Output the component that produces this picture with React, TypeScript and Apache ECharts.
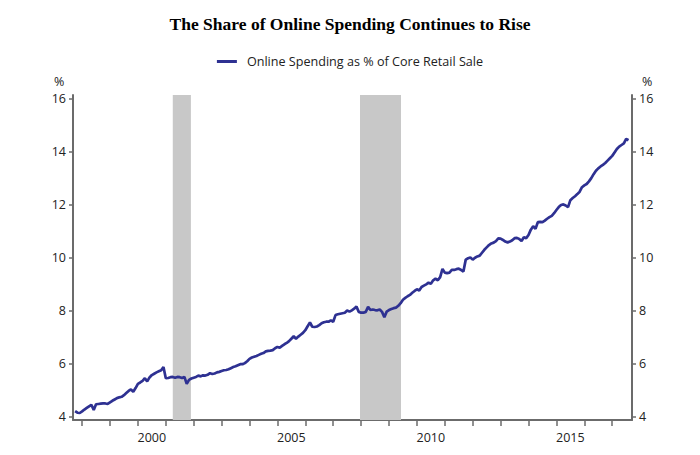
import React, { useEffect, useRef } from "react";
import * as echarts from "echarts";

const TITLE = "The Share of Online Spending Continues to Rise";
const SERIES_NAME = "Online Spending as % of Core Retail Sale";

// Monthly data, first value = October 1997
const START_YEAR = 1997;
const START_MONTH = 10;
const share1997 = [4.21, 4.15, 4.14];
const share1998 = [4.2, 4.27, 4.33, 4.39, 4.45, 4.25, 4.47, 4.48, 4.49, 4.5, 4.5, 4.48];
const share1999 = [4.54, 4.6, 4.65, 4.7, 4.73, 4.75, 4.81, 4.89, 4.97, 5.03, 4.94, 5.08];
const share2000 = [5.24, 5.29, 5.35, 5.45, 5.33, 5.48, 5.57, 5.62, 5.67, 5.71, 5.75, 5.87];
const share2001 = [5.45, 5.46, 5.49, 5.5, 5.47, 5.5, 5.49, 5.46, 5.5, 5.24, 5.39, 5.44];
const share2002 = [5.47, 5.5, 5.55, 5.52, 5.56, 5.55, 5.58, 5.64, 5.61, 5.63, 5.67, 5.69];
const share2003 = [5.72, 5.75, 5.76, 5.79, 5.83, 5.87, 5.9, 5.94, 5.98, 5.98, 6.02, 6.09];
const share2004 = [6.18, 6.23, 6.26, 6.29, 6.33, 6.37, 6.4, 6.46, 6.48, 6.49, 6.51, 6.58];
const share2005 = [6.63, 6.6, 6.67, 6.73, 6.78, 6.85, 6.94, 7.03, 6.94, 7.02, 7.09, 7.16];
const share2006 = [7.26, 7.41, 7.55, 7.39, 7.38, 7.4, 7.45, 7.52, 7.56, 7.58, 7.58, 7.63];
const share2007 = [7.58, 7.83, 7.86, 7.88, 7.9, 7.92, 8.0, 7.96, 8.01, 8.07, 8.15, 7.95];
const share2008 = [7.92, 7.92, 7.95, 8.14, 8.02, 8.04, 8.02, 8.01, 8.04, 7.95, 7.75, 7.96];
const share2009 = [8.02, 8.06, 8.09, 8.11, 8.18, 8.28, 8.41, 8.48, 8.54, 8.59, 8.67, 8.74];
const share2010 = [8.8, 8.76, 8.89, 8.94, 8.99, 9.05, 9.01, 9.14, 9.2, 9.14, 9.26, 9.57];
const share2011 = [9.43, 9.41, 9.43, 9.53, 9.53, 9.56, 9.58, 9.53, 9.47, 9.92, 9.97, 10.0];
const share2012 = [9.92, 9.99, 10.04, 10.07, 10.18, 10.29, 10.38, 10.47, 10.53, 10.56, 10.62, 10.72];
const share2013 = [10.71, 10.66, 10.6, 10.57, 10.6, 10.65, 10.73, 10.74, 10.7, 10.62, 10.76, 10.73];
const share2014 = [10.85, 11.05, 11.18, 11.08, 11.33, 11.34, 11.33, 11.39, 11.46, 11.52, 11.57, 11.67];
const share2015 = [11.79, 11.9, 11.98, 12.0, 11.96, 11.9, 12.16, 12.24, 12.31, 12.39, 12.48, 12.65];
const share2016 = [12.72, 12.77, 12.87, 12.99, 13.14, 13.27, 13.36, 13.43, 13.49, 13.56, 13.65, 13.74];
const share2017 = [13.83, 13.96, 14.09, 14.18, 14.24, 14.3, 14.47, 14.42];

// Recession periods (fractional years)
const recessionStarts = [2001.25, 2007.96];
const recessionEnds = [2001.9, 2009.43];

const yearTicks = [1998, 1999, 2000, 2001, 2002, 2003, 2004, 2005, 2006, 2007, 2008, 2009, 2010, 2011, 2012, 2013, 2014, 2015, 2016, 2017];
const yearLabels = [2000, 2005, 2010, 2015];
const yTicks = [4, 6, 8, 10, 12, 14, 16];

const X_MIN = 1997.674;
const X_MAX = 2017.709;
const Y_MIN = 3.876;
const Y_MAX = 16.124;

const AXIS_COLOR = "#6b6b6b";
const LINE_COLOR = "#2e3192";
const LABEL_FONT = "Open Sans";

export default function App() {
  const ref = useRef<HTMLDivElement>(null);

  useEffect(() => {
    if (!ref.current) return;
    const chart = echarts.init(ref.current, undefined, { renderer: "svg" });

    const values = [
      ...share1997, ...share1998, ...share1999, ...share2000, ...share2001,
      ...share2002, ...share2003, ...share2004, ...share2005, ...share2006,
      ...share2007, ...share2008, ...share2009, ...share2010, ...share2011,
      ...share2012, ...share2013, ...share2014, ...share2015, ...share2016,
      ...share2017,
    ];
    const data = values.map((v, i) => [START_YEAR + (START_MONTH - 1 + i) / 12, v]);

    const axisLine = { show: true, lineStyle: { color: AXIS_COLOR, width: 2 } };
    const tickStyle = { color: AXIS_COLOR, width: 1.5 };
    const labelStyle = { fontFamily: LABEL_FONT, fontSize: 12.5, color: "#222" };

    const yAxisBase = (position: "left" | "right") => ({
      type: "value",
      position,
      min: Y_MIN,
      max: Y_MAX,
      axisLine,
      axisTick: { show: true, length: 4, customValues: yTicks, lineStyle: tickStyle },
      axisLabel: { ...labelStyle, margin: 7, customValues: yTicks, formatter: (v: number) => String(Math.round(v)) },
      splitLine: { show: false },
    });

    chart.setOption({
      animation: false,
      backgroundColor: "#ffffff",
      title: {
        text: TITLE,
        left: "center",
        top: 10,
        textStyle: { fontFamily: "Liberation Serif", fontWeight: "bold", fontSize: 17.5, color: "#000" },
      },
      legend: {
        top: 50,
        left: "center",
        icon: "rect",
        itemWidth: 20,
        itemHeight: 3,
        itemGap: 10,
        data: [SERIES_NAME],
        textStyle: { ...labelStyle, fontSize: 12.6, padding: [0, 0, 0, 5] },
      },
      grid: { left: 73, right: 68, top: 95, bottom: 35 },
      xAxis: {
        type: "value",
        min: X_MIN,
        max: X_MAX,
        axisLine,
        axisTick: { show: true, length: 6, customValues: yearTicks, lineStyle: tickStyle },
        axisLabel: {
          ...labelStyle,
          margin: 11,
          customValues: yearLabels.map((y) => y + 0.5),
          formatter: (v: number) => String(Math.floor(v)),
        },
        splitLine: { show: false },
      },
      yAxis: [yAxisBase("left"), yAxisBase("right")],
      graphic: [
        { type: "text", left: 54, top: 75, style: { text: "%", font: `12.5px "${LABEL_FONT}"`, fill: "#222" } },
        { type: "text", left: 642, top: 75, style: { text: "%", font: `12.5px "${LABEL_FONT}"`, fill: "#222" } },
      ],
      series: [
        {
          type: "line",
          name: SERIES_NAME,
          data,
          showSymbol: false,
          symbol: "none",
          lineStyle: { color: LINE_COLOR, width: 2.7 },
          itemStyle: { color: LINE_COLOR },
          z: 3,
          markArea: {
            silent: true,
            itemStyle: { color: "#c8c8c8" },
            data: recessionStarts.map((s, i) => [{ xAxis: s }, { xAxis: recessionEnds[i] }]),
          },
        },
      ],
    });

    return () => chart.dispose();
  }, []);

  return <div ref={ref} style={{ width: 700, height: 455, margin: -8 }} />;
}
